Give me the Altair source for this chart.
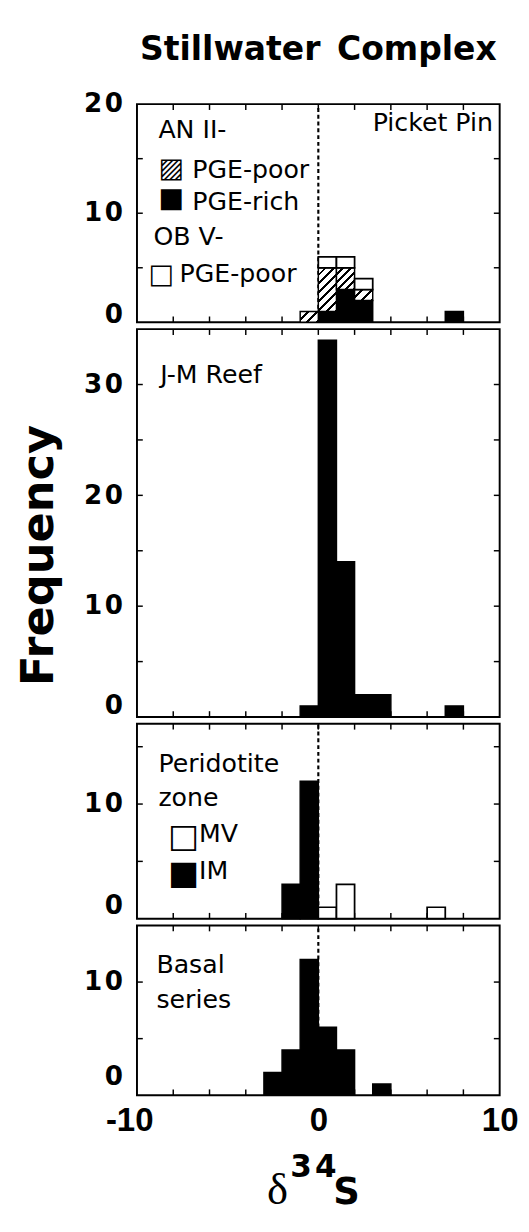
import altair as alt
import pandas as pd

# ---------------- data ----------------
X_DOMAIN = [-10, 10]
BIN_WIDTH = 1

# Picket Pin (stacked: AN II PGE-rich, AN II PGE-poor, OB V PGE-poor)
PP_BINS = [-1, 0, 1, 2, 7]
PP_AN_RICH = [0, 1, 3, 2, 1]
PP_AN_POOR = [1, 4, 2, 1, 0]
PP_OB_POOR = [0, 1, 1, 1, 0]

# J-M Reef
JM_BINS = [-1, 0, 1, 2, 3, 7]
JM_COUNTS = [1, 34, 14, 2, 2, 1]

# Peridotite zone
PZ_IM_BINS = [-2, -1]
PZ_IM_COUNTS = [3, 12]
PZ_MV_BINS = [0, 1, 6]
PZ_MV_COUNTS = [1, 3, 1]

# Basal series
BS_BINS = [-3, -2, -1, 0, 1, 3]
BS_COUNTS = [2, 4, 12, 6, 4, 1]

X_TICKS = [-8, -6, -4, -2, 0, 2, 4, 6, 8]
X_LABELS = [-10, 0, 10]

Y_MAX = [20, 35, 17, 15]
Y_LABELS = [[0, 10, 20], [0, 10, 20, 30], [0, 10], [0, 10]]
Y_TICKS = [[5, 10, 15], [5, 10, 15, 20, 25, 30], [5, 10, 15], [5, 10]]

TITLE = "Stillwater\u2002Complex"
Y_TITLE = "Frequency"

# annotations (data coordinates)
P1_TEXT = ["AN II-", "PGE-poor", "PGE-rich", "OB V-", "PGE-poor"]
P1_TEXT_X = [-8.82, -6.95, -6.95, -9.09, -7.65]
P1_TEXT_Y = [16.9, 13.2, 10.3, 7.1, 3.73]
P1_KEY = ["▨", "■", "□"]
P1_KEY_X = [-8.82, -8.82, -9.36]
P1_KEY_Y = [13.3, 10.6, 3.6]
P1_CORNER = ["Picket Pin"]
P1_CORNER_X = [9.63]
P1_CORNER_Y = [17.5]

P2_TEXT = ["J-M Reef"]
P2_TEXT_X = [-8.72]
P2_TEXT_Y = [30.1]

P3_TEXT = ["Peridotite", "zone", "MV", "IM"]
P3_TEXT_X = [-8.82, -8.82, -6.58, -6.58]
P3_TEXT_Y = [12.8, 9.8, 6.7, 3.5]
P3_KEY = ["□", "■"]
P3_KEY_X = [-8.29, -8.29]
P3_KEY_Y = [6.26, 3.05]

P4_TEXT = ["Basal", "series"]
P4_TEXT_X = [-8.93, -8.93]
P4_TEXT_Y = [10.8, 7.7]

# ---------------- layout / style ----------------
W = 374
HEIGHTS = [225, 400, 201, 175]
ZERO_OFF = [-8, -12, -13, -19]   # the "0" labels sit a little above the baseline
TICK_LEN = 6
HAIR = "\u200a"


def xs():
    return alt.Scale(domain=X_DOMAIN, nice=False, zero=False)


def ys(i):
    return alt.Scale(domain=[0, Y_MAX[i]], nice=False, zero=True)


def X(field, i, **kw):
    # x axis only exists on the bottom panel; elsewhere it is disabled on every layer
    if i == 3:
        return alt.X(field, scale=xs(), **kw)
    return alt.X(field, scale=xs(), axis=None)


def Y(field, i, **kw):
    return alt.Y(field, scale=ys(i), **kw)


def bar_layer(df, i, fill, sw=1.5):
    return alt.Chart(df).mark_bar(fill=fill, stroke="black", strokeWidth=sw).encode(
        x=X("x0:Q", i), x2="x1:Q", y=Y("y0:Q", i), y2="y1:Q",
    )


def hist_df(bins, counts, base=None):
    base = base or [0] * len(bins)
    return pd.DataFrame({
        "x0": bins,
        "x1": [b + BIN_WIDTH for b in bins],
        "y0": base,
        "y1": [b + c for b, c in zip(base, counts)],
    })


def hatch_layers(df, i):
    layers = []
    px_x = W / (X_DOMAIN[1] - X_DOMAIN[0])
    px_y = HEIGHTS[i] / Y_MAX[i]
    for _, r in df.iterrows():
        if r["y1"] <= r["y0"]:
            continue
        w = (r["x1"] - r["x0"]) * px_x
        h = (r["y1"] - r["y0"]) * px_y
        k = (w + h) / (w * w + h * h)
        n = max(2, round((w + h) / 9.0))
        stops = []
        for j in range(n):
            a = j / n
            b = (j + 0.68) / n
            c = (j + 1) / n
            stops += [
                {"offset": a, "color": "white"},
                {"offset": b, "color": "white"},
                {"offset": b, "color": "black"},
                {"offset": c, "color": "black"},
            ]
        grad = {"gradient": "linear", "x1": 0, "y1": 0, "x2": k * w, "y2": k * h,
                "stops": stops}
        layers.append(bar_layer(pd.DataFrame([r]), i, grad))
    return layers


def text_layer(texts, xv, yv, i, size=26, align="left", font="DejaVu Sans"):
    df = pd.DataFrame({"t": texts, "x": xv, "y": yv})
    return alt.Chart(df).mark_text(
        align=align, baseline="alphabetic", font=font, fontSize=size, color="black"
    ).encode(x=X("x:Q", i), y=Y("y:Q", i), text="t:N")


def dash_layer(i):
    df = pd.DataFrame({"x": [0], "y0": [0], "y1": [Y_MAX[i]]})
    return alt.Chart(df).mark_rule(color="black", strokeWidth=2.2, strokeDash=[4, 3]).encode(
        x=X("x:Q", i), y=Y("y0:Q", i), y2="y1:Q",
    )


def label_text(text, x, y, size, font="DejaVu Sans", weight="bold"):
    # static (non-data) heading text placed in pixels relative to a panel
    return alt.Chart(pd.DataFrame({"t": [text]})).mark_text(
        align="center", baseline="alphabetic", font=font, fontWeight=weight,
        fontSize=size, color="black"
    ).encode(text="t:N", x=alt.value(x), y=alt.value(y))


def frame_layers(i, y_title=None):
    h = HEIGHTS[i]
    xdf = pd.DataFrame({"t": X_TICKS})
    ydf = pd.DataFrame({"t": Y_TICKS[i]})
    yaxis_kw = dict(
        values=Y_LABELS[i], ticks=False, tickSize=0, domain=False, grid=False,
        labelFont="DejaVu Sans", labelFontWeight="bold", labelFontSize=27,
        labelColor="black", labelPadding=15,
        labelExpr="datum.value === 0 ? '0' : floor(datum.value / 10) + '" + HAIR + "' + (datum.value % 10)",
        labelOffset={"condition": {"test": "datum.value === 0", "value": ZERO_OFF[i]}, "value": 0},
        title=y_title if y_title else "",
    )
    if y_title:
        yaxis_kw.update(
            titleFont="DejaVu Sans", titleFontSize=46, titleFontWeight="bold",
            titleColor="black", titleAngle=270, titleX=-87, titleY=233,
            titleAlign="center", titleBaseline="alphabetic",
        )
    top_ticks = alt.Chart(xdf).mark_rule(color="black", strokeWidth=1.5).encode(
        x=X("t:Q", i), y=alt.value(0), y2=alt.value(TICK_LEN))
    if i == 3:
        xaxis = alt.Axis(
            values=X_LABELS, ticks=False, tickSize=0, domain=False, grid=False,
            labelFont="Liberation Sans", labelFontWeight="bold", labelFontSize=34,
            labelColor="black", labelPadding=9, labelFlush=False,
            labelExpr="datum.value + ''",
            labelOffset={"condition": {"test": "datum.value === -10", "value": -8}, "value": 0},
            title="",
        )
        bot_x = X("t:Q", i, axis=xaxis)
    else:
        bot_x = X("t:Q", i)
    bot_ticks = alt.Chart(xdf).mark_rule(color="black", strokeWidth=1.5).encode(
        x=bot_x, y=alt.value(h), y2=alt.value(h - TICK_LEN))
    left_ticks = alt.Chart(ydf).mark_rule(color="black", strokeWidth=1.5).encode(
        y=Y("t:Q", i, axis=alt.Axis(**yaxis_kw)), x=alt.value(0), x2=alt.value(TICK_LEN))
    right_ticks = alt.Chart(ydf).mark_rule(color="black", strokeWidth=1.5).encode(
        y=Y("t:Q", i), x=alt.value(W), x2=alt.value(W - TICK_LEN))
    return [left_ticks, top_ticks, bot_ticks, right_ticks]


# ---------- panel 1: Picket Pin ----------
rich = hist_df(PP_BINS, PP_AN_RICH)
poor = hist_df(PP_BINS, PP_AN_POOR, base=list(rich["y1"]))
obp = hist_df(PP_BINS, PP_OB_POOR, base=list(poor["y1"]))
rich = rich[rich["y1"] > rich["y0"]]
obp = obp[obp["y1"] > obp["y0"]]

p1 = alt.layer(
    *frame_layers(0),
    dash_layer(0),
    bar_layer(rich, 0, "black"),
    *hatch_layers(poor, 0),
    bar_layer(obp, 0, "white", 1.8),
    text_layer(P1_TEXT, P1_TEXT_X, P1_TEXT_Y, 0),
    text_layer(P1_KEY, P1_KEY_X, P1_KEY_Y, 0, size=28),
    text_layer(P1_CORNER, P1_CORNER_X, P1_CORNER_Y, 0, align="right"),
    label_text(TITLE, W / 2, -45, 34),
).properties(width=W, height=HEIGHTS[0])

# ---------- panel 2: J-M Reef ----------
p2 = alt.layer(
    *frame_layers(1, y_title=Y_TITLE),
    bar_layer(hist_df(JM_BINS, JM_COUNTS), 1, "black"),
    text_layer(P2_TEXT, P2_TEXT_X, P2_TEXT_Y, 1),
).properties(width=W, height=HEIGHTS[1])

# ---------- panel 3: Peridotite zone ----------
p3 = alt.layer(
    *frame_layers(2),
    dash_layer(2),
    bar_layer(hist_df(PZ_IM_BINS, PZ_IM_COUNTS), 2, "black"),
    bar_layer(hist_df(PZ_MV_BINS, PZ_MV_COUNTS), 2, "white", 1.8),
    text_layer(P3_TEXT, P3_TEXT_X, P3_TEXT_Y, 2),
    text_layer(P3_KEY, P3_KEY_X, P3_KEY_Y, 2, size=34),
).properties(width=W, height=HEIGHTS[2])

# ---------- panel 4: Basal series ----------
h4 = HEIGHTS[3]
p4 = alt.layer(
    *frame_layers(3),
    dash_layer(3),
    bar_layer(hist_df(BS_BINS, BS_COUNTS), 3, "black"),
    text_layer(P4_TEXT, P4_TEXT_X, P4_TEXT_Y, 3),
    label_text("δ", 145, h4 + 112, 46, font="Liberation Serif", weight="normal"),
    label_text("3" + HAIR + "4", 182, h4 + 84, 32),
    label_text("S", 216, h4 + 112, 38),
).properties(width=W, height=HEIGHTS[3])

chart = alt.vconcat(p1, p2, p3, p4, spacing=7, bounds="flush").properties(
    padding={"left": 8, "top": 7, "right": 2, "bottom": 2},
    background="white",
).configure_view(stroke="black", strokeWidth=2).configure_axis(
    grid=False, domain=False, ticks=False
)

chart.save("out.html", embed_options={"renderer": "svg", "actions": False})
